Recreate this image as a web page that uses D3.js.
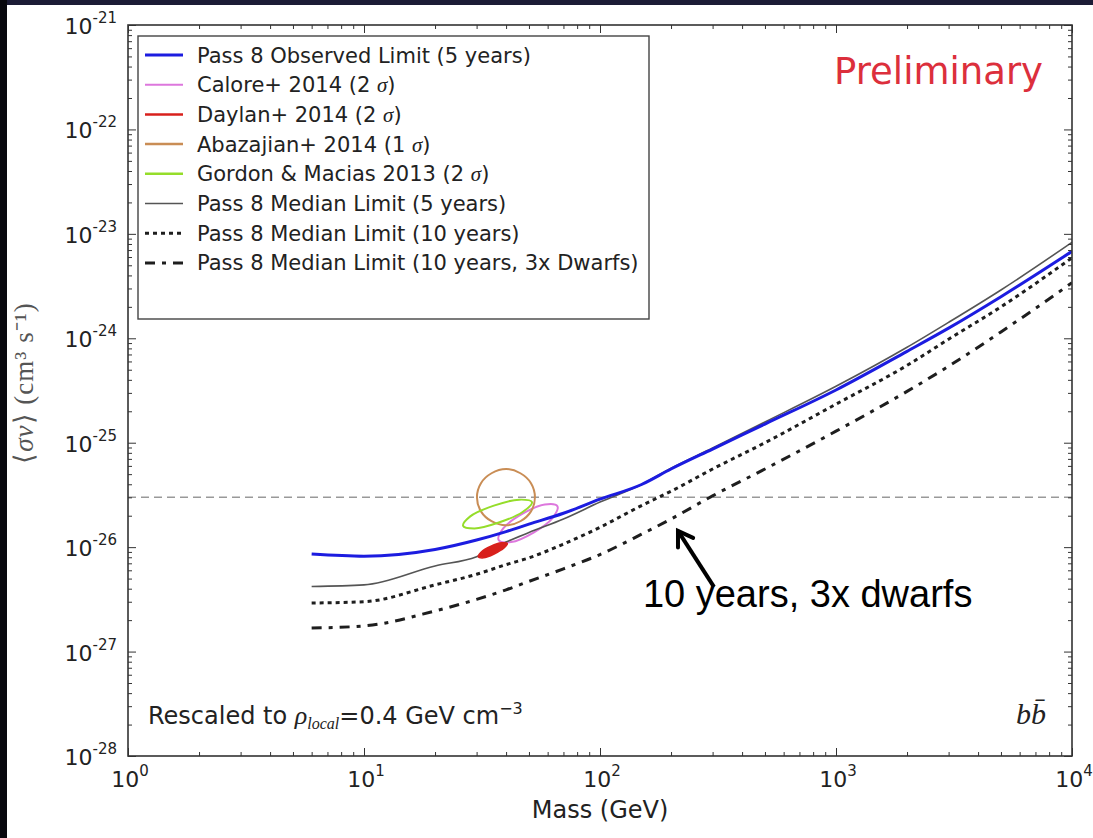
<!DOCTYPE html>
<html><head><meta charset="utf-8">
<script src="https://cdn.jsdelivr.net/npm/d3@7"></script>
<style>body{margin:0;background:#fff;} svg{display:block;}</style>
</head><body>
<svg id="chart" width="1093" height="838"></svg>
<script>
// Dark matter annihilation limits, b-bbar channel
const massGeV = [6, 10, 20, 30, 40, 50, 70, 100, 150, 200, 300, 500, 1000, 2000, 3000, 5000, 10000];
const observed5yr = [8.6e-27, 8.2e-27, 9.5e-27, 1.17e-26, 1.41e-26, 1.66e-26, 2.11e-26, 2.88e-26, 3.98e-26, 5.6e-26, 8.7e-26, 1.51e-25, 3.2e-25, 7.5e-25, 1.25e-24, 2.5e-24, 6.8e-24];
const median5yr = [4.2e-27, 4.35e-27, 6.6e-27, 8.1e-27, 1.12e-26, 1.38e-26, 1.86e-26, 2.7e-26, 3.98e-26, 5.7e-26, 8.9e-26, 1.58e-25, 3.47e-25, 8.2e-25, 1.42e-24, 2.9e-24, 8.3e-24];
const median10yr = [2.92e-27, 3.0e-27, 4.35e-27, 5.5e-27, 6.8e-27, 7.9e-27, 1.07e-26, 1.55e-26, 2.5e-26, 3.43e-26, 5.6e-26, 1.0e-25, 2.34e-25, 5.5e-25, 9.8e-25, 2.0e-24, 5.9e-24];
const median10yr3x = [1.68e-27, 1.76e-27, 2.45e-27, 3.16e-27, 3.9e-27, 4.7e-27, 6.2e-27, 8.5e-27, 1.33e-26, 1.86e-26, 3.1e-26, 5.6e-26, 1.29e-25, 3.1e-25, 5.4e-25, 1.15e-24, 3.4e-24];

// Galactic-centre excess fit regions: [mass GeV, <sigma v>]
const calore2014 = [[66.0,2.47e-26],[63.0,1.91e-26],[52.3,1.38e-26],[42.0,1.12e-26],[37.2,1.17e-26],[38.9,1.51e-26],[47.0,2.09e-26],[58.4,2.56e-26]];
const daylan2014 = [[40.5,1.08e-26],[39.2,9.8e-27],[35.6,8.6e-27],[32.1,7.9e-27],[30.5,8.1e-27],[31.4,8.98e-27],[34.5,1.02e-26],[38.2,1.1e-26]];
const abazajian2014 = [[53,3.0e-26],[51,4.1e-26],[46,5.1e-26],[40,5.6e-26],[34.7,5.1e-26],[31.3,4.1e-26],[30.1,3.0e-26],[31.3,2.2e-26],[34.7,1.77e-26],[40,1.62e-26],[46,1.77e-26],[51,2.2e-26]];
const gordon2013 = [[51.5,2.7e-26],[47.0,2.17e-26],[37.0,1.71e-26],[29.4,1.51e-26],[26.3,1.60e-26],[28.2,1.97e-26],[35.5,2.5e-26],[45.5,2.85e-26]];

const thermalRelic = 3e-26;
const xMajorTicks = [1, 10, 100, 1000, 10000];
const xTickExponents = ["0", "1", "2", "3", "4"];
const yMajorTicks = [1e-21, 1e-22, 1e-23, 1e-24, 1e-25, 1e-26, 1e-27, 1e-28];
const yTickExponents = ["-21", "-22", "-23", "-24", "-25", "-26", "-27", "-28"];

const legendLabels = [
  "Pass 8 Observed Limit (5 years)",
  "Calore+ 2014 (2 σ)",
  "Daylan+ 2014 (2 σ)",
  "Abazajian+ 2014 (1 σ)",
  "Gordon & Macias 2013 (2 σ)",
  "Pass 8 Median Limit (5 years)",
  "Pass 8 Median Limit (10 years)",
  "Pass 8 Median Limit (10 years, 3x Dwarfs)"
];

const C = {
  blue: "#1c1ce0", calore: "#dd77dd", daylan: "#d8201c", abaz: "#c98d55",
  gordon: "#95dd2a", median: "#555555", ink: "#1e1e1e", frame: "#333333"
};

const svg = d3.select("#chart");
const FONT = "DejaVu Sans, sans-serif";
const SERIF = "Liberation Serif, serif";

svg.append("rect").attr("width", 1093).attr("height", 838).attr("fill", "#fff");
// slide frame strips
svg.append("rect").attr("x", 0).attr("y", 0).attr("width", 1093).attr("height", 5).attr("fill", "#1c1c36");
svg.append("rect").attr("x", 0).attr("y", 0).attr("width", 7).attr("height", 838).attr("fill", "#08080e");

const x = d3.scaleLog().domain([1, 1e4]).range([128, 1072]);
const y = d3.scaleLog().domain([1e-28, 1e-21]).range([756, 25]);

const defs = svg.append("defs");
defs.append("clipPath").attr("id", "plot")
  .append("rect").attr("x", 128).attr("y", 25).attr("width", 944).attr("height", 731);

const plot = svg.append("g").attr("clip-path", "url(#plot)");

// thermal relic cross-section
plot.append("line")
  .attr("x1", x(1)).attr("x2", x(1e4)).attr("y1", y(thermalRelic)).attr("y2", y(thermalRelic))
  .attr("stroke", "#999").attr("stroke-width", 1.6).attr("stroke-dasharray", "8,5");

const contour = d3.line().x(d => x(d[0])).y(d => y(d[1])).curve(d3.curveCatmullRomClosed);
plot.append("path").attr("d", contour(calore2014)).attr("fill", "none").attr("stroke", C.calore).attr("stroke-width", 2);
plot.append("path").attr("d", contour(abazajian2014)).attr("fill", "none").attr("stroke", C.abaz).attr("stroke-width", 2);
plot.append("path").attr("d", contour(gordon2013)).attr("fill", "none").attr("stroke", C.gordon).attr("stroke-width", 2);

const curve = d3.line().x((d, i) => x(massGeV[i])).y(d => y(d)).curve(d3.curveMonotoneX);
plot.append("path").attr("d", curve(median5yr)).attr("fill", "none").attr("stroke", C.median).attr("stroke-width", 1.6);
plot.append("path").attr("d", curve(median10yr)).attr("fill", "none").attr("stroke", C.ink).attr("stroke-width", 3).attr("stroke-dasharray", "4,4");
plot.append("path").attr("d", curve(median10yr3x)).attr("fill", "none").attr("stroke", C.ink).attr("stroke-width", 3).attr("stroke-dasharray", "10,7,4,7");
plot.append("path").attr("d", curve(observed5yr)).attr("fill", "none").attr("stroke", C.blue).attr("stroke-width", 3);
plot.append("path").attr("d", contour(daylan2014)).attr("fill", C.daylan).attr("stroke", C.daylan).attr("stroke-width", 1.5);

// ticks on all four sides, pointing inward
const xMinor = x.ticks().filter(v => !xMajorTicks.includes(v));
const yMinor = y.ticks(20).filter(v => !yMajorTicks.some(m => Math.abs(m - v) / m < 1e-6));
function tickSet(axis, values, size, transform) {
  const g = svg.append("g").attr("transform", transform)
    .call(axis.tickValues(values).tickSize(size).tickFormat(""));
  g.select(".domain").remove();
  g.selectAll(".tick line").attr("stroke", C.frame).attr("stroke-width", 1);
}
tickSet(d3.axisBottom(x), xMajorTicks, -8, "translate(0,756)");
tickSet(d3.axisBottom(x), xMinor, -4, "translate(0,756)");
tickSet(d3.axisTop(x), xMajorTicks, -8, "translate(0,25)");
tickSet(d3.axisTop(x), xMinor, -4, "translate(0,25)");
tickSet(d3.axisLeft(y), yMajorTicks, -8, "translate(128,0)");
tickSet(d3.axisLeft(y), yMinor, -4, "translate(128,0)");
tickSet(d3.axisRight(y), yMajorTicks, -8, "translate(1072,0)");
tickSet(d3.axisRight(y), yMinor, -4, "translate(1072,0)");

svg.append("rect").attr("x", 128).attr("y", 25).attr("width", 944).attr("height", 731)
  .attr("fill", "none").attr("stroke", C.frame).attr("stroke-width", 1.6);

// tick labels
xMajorTicks.forEach((v, i) => {
  const t = svg.append("text").attr("x", x(v) + 2).attr("y", 787).attr("text-anchor", "middle")
    .attr("font-family", FONT).attr("font-size", 22).attr("fill", "#222");
  t.append("tspan").text("10");
  t.append("tspan").attr("dy", -11).attr("font-size", 15).text(xTickExponents[i]);
});
yMajorTicks.forEach((v, i) => {
  const t = svg.append("text").attr("x", 117).attr("y", y(v) + 9).attr("text-anchor", "end")
    .attr("font-family", FONT).attr("font-size", 22).attr("fill", "#222");
  t.append("tspan").text("10");
  t.append("tspan").attr("dy", -11).attr("font-size", 15).text(yTickExponents[i]);
});

svg.append("text").attr("x", x(100)).attr("y", 818).attr("text-anchor", "middle")
  .attr("font-family", FONT).attr("font-size", 24).attr("fill", "#222").text("Mass (GeV)");

const yl = svg.append("text").attr("transform", "translate(33,383) rotate(-90)").attr("text-anchor", "middle")
  .attr("font-family", SERIF).attr("font-size", 27).attr("fill", "#555").attr("letter-spacing", 1);
yl.append("tspan").text("⟨");
yl.append("tspan").attr("font-style", "italic").text("σv");
yl.append("tspan").text("⟩ (cm³ s⁻¹)");

// legend
const lg = svg.append("g");
lg.append("rect").attr("x", 138).attr("y", 36).attr("width", 511).attr("height", 283)
  .attr("fill", "#fff").attr("stroke", "#444").attr("stroke-width", 1.4);
const legendStyles = [
  {stroke: C.blue, w: 3, dash: null},
  {stroke: C.calore, w: 2, dash: null},
  {stroke: C.daylan, w: 2.5, dash: null},
  {stroke: C.abaz, w: 2.5, dash: null},
  {stroke: C.gordon, w: 2.5, dash: null},
  {stroke: C.median, w: 1.6, dash: null},
  {stroke: C.ink, w: 3, dash: "4,4"},
  {stroke: C.ink, w: 3, dash: "10,7,4,7"}
];
legendLabels.forEach((lab, i) => {
  const ry = 55 + i * 29.7;
  const s = legendStyles[i];
  lg.append("line").attr("x1", 145).attr("x2", 183).attr("y1", ry).attr("y2", ry)
    .attr("stroke", s.stroke).attr("stroke-width", s.w).attr("stroke-dasharray", s.dash);
  const t = lg.append("text").attr("x", 197).attr("y", ry + 7.5)
    .attr("font-family", FONT).attr("font-size", 21).attr("fill", "#222");
  const parts = lab.split("σ");
  t.append("tspan").text(parts[0]);
  if (parts.length > 1) {
    t.append("tspan").attr("font-family", SERIF).attr("font-style", "italic").text("σ");
    t.append("tspan").text(parts[1]);
  }
});

svg.append("text").attr("x", 1043).attr("y", 84).attr("text-anchor", "end")
  .attr("font-family", FONT).attr("font-size", 37).attr("fill", "#dc2f3c").text("Preliminary");

const rs = svg.append("text").attr("x", 148).attr("y", 724)
  .attr("font-family", FONT).attr("font-size", 24).attr("fill", "#222");
rs.append("tspan").text("Rescaled to ");
rs.append("tspan").attr("font-family", SERIF).attr("font-style", "italic").attr("font-size", 26).text("ρ");
rs.append("tspan").attr("font-family", SERIF).attr("font-style", "italic").attr("font-size", 16).attr("dy", 5).text("local");
rs.append("tspan").attr("dy", -5).text("=0.4 GeV cm");
rs.append("tspan").attr("font-size", 16).attr("dy", -10).text("−3");

const bb = svg.append("text").attr("x", 1046).attr("y", 724).attr("text-anchor", "end")
  .attr("font-family", SERIF).attr("font-style", "italic").attr("font-size", 30).attr("fill", "#222");
bb.append("tspan").text("b");
bb.append("tspan").text("b\u0304");

// annotation pointing at the 10-year, 3x dwarfs projection
const arrowTail = [304, 4.17e-27], arrowTip = [214, 1.43e-26];
defs.append("marker").attr("id", "head").attr("markerUnits", "userSpaceOnUse")
  .attr("viewBox", "-20 -12 24 24").attr("markerWidth", 24).attr("markerHeight", 24)
  .attr("refX", 0).attr("refY", 0).attr("orient", "auto")
  .append("path").attr("d", "M-14,-9 L0,0 L-14,9").attr("fill", "none")
  .attr("stroke", "#000").attr("stroke-width", 4).attr("stroke-linecap", "round").attr("stroke-linejoin", "miter");
svg.append("line")
  .attr("x1", x(arrowTail[0])).attr("y1", y(arrowTail[1]))
  .attr("x2", x(arrowTip[0])).attr("y2", y(arrowTip[1]))
  .attr("stroke", "#000").attr("stroke-width", 4).attr("marker-end", "url(#head)");
svg.append("text").attr("x", x(152)).attr("y", y(2.67e-27))
  .attr("font-family", "Liberation Sans, Arial, sans-serif").attr("font-size", 38).attr("fill", "#000")
  .text("10 years, 3x dwarfs");
</script>
</body></html>
